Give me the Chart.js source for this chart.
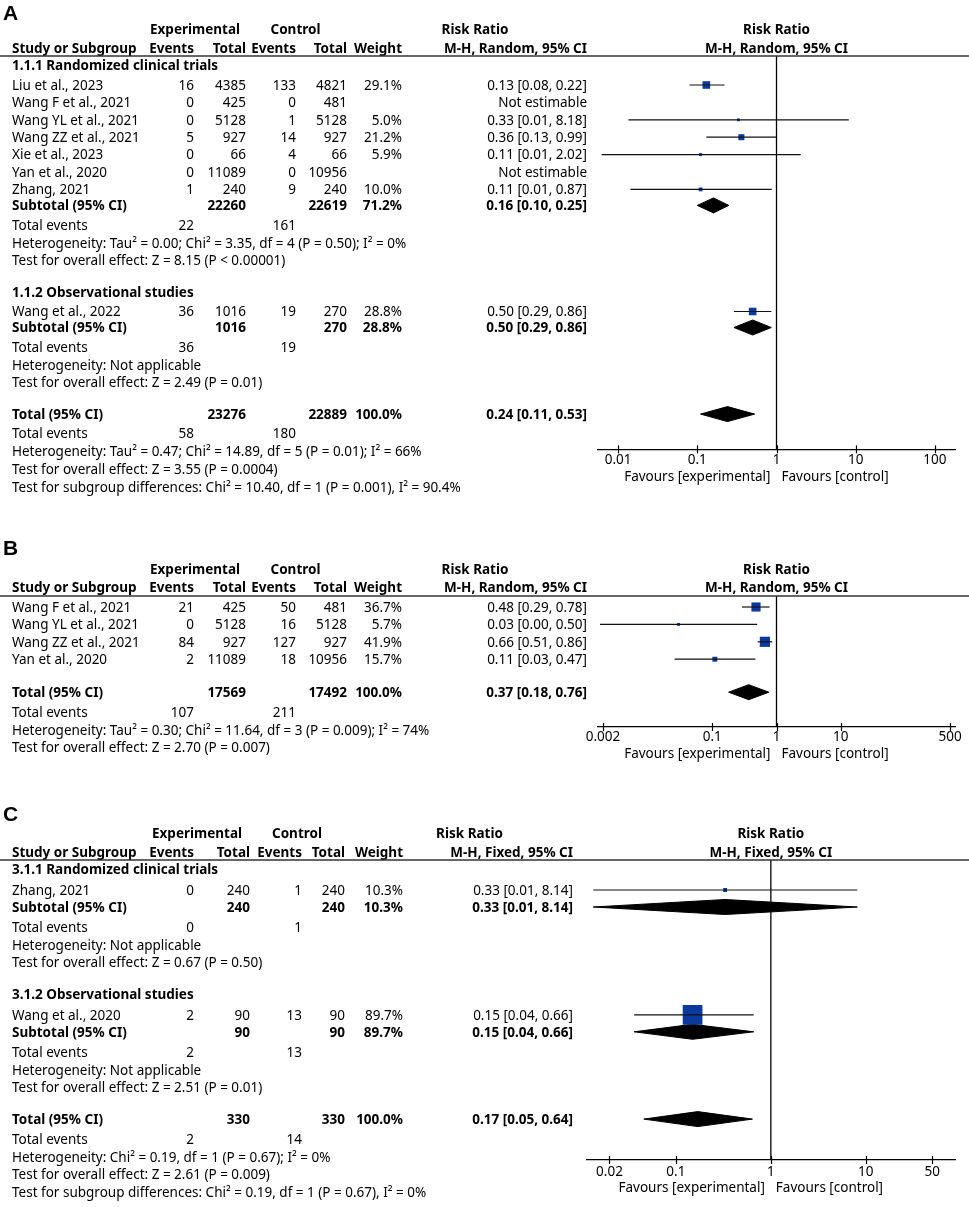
<!DOCTYPE html>
<html>
<head>
<meta charset="utf-8">
<script src="https://cdn.jsdelivr.net/npm/chart.js@4.4.1/dist/chart.umd.min.js"></script>
<style>
  body { margin: 0; background: #fff; width: 969px; height: 1207px; position: relative; overflow: hidden; }
  canvas { position: absolute; left: 0; }
</style>
</head>
<body>
<canvas id="panelA" width="969" height="500" style="top:0px"></canvas>
<canvas id="panelB" width="969" height="262" style="top:500px"></canvas>
<canvas id="panelC" width="969" height="445" style="top:762px"></canvas>
<script>
// ---------- Panel A: studies ----------
const aStudies = ["Liu et al., 2023", "Wang F et al., 2021", "Wang YL et al., 2021", "Wang ZZ et al., 2021",
                  "Xie et al., 2023", "Yan et al., 2020", "Zhang, 2021", "Wang et al., 2022"];
const aSubgroupOf = [0, 0, 0, 0, 0, 0, 0, 1];
const aExpEvents = [16, 0, 0, 5, 0, 0, 1, 36];
const aExpTotal  = [4385, 425, 5128, 927, 66, 11089, 240, 1016];
const aCtlEvents = [133, 0, 1, 14, 4, 0, 9, 19];
const aCtlTotal  = [4821, 481, 5128, 927, 66, 10956, 240, 270];
const aWeight    = [29.1, null, 5.0, 21.2, 5.9, null, 10.0, 28.8];
const aRR        = [0.13, null, 0.33, 0.36, 0.11, null, 0.11, 0.50];
const aLow       = [0.08, null, 0.0135, 0.13, 0.0062, null, 0.0143, 0.29];
const aHigh      = [0.22, null, 8.18, 0.99, 2.02, null, 0.87, 0.86];
// Panel A: subgroups
const aGroupNames     = ["1.1.1 Randomized clinical trials", "1.1.2 Observational studies"];
const aGroupExpTotal  = [22260, 1016];
const aGroupCtlTotal  = [22619, 270];
const aGroupWeight    = [71.2, 28.8];
const aGroupRR        = [0.16, 0.50];
const aGroupLow       = [0.10, 0.29];
const aGroupHigh      = [0.25, 0.86];
const aGroupExpEvents = [22, 36];
const aGroupCtlEvents = [161, 19];
const aGroupHet  = ["Heterogeneity: Tau² = 0.00; Chi² = 3.35, df = 4 (P = 0.50); I² = 0%",
                    "Heterogeneity: Not applicable"];
const aGroupTest = ["Test for overall effect: Z = 8.15 (P < 0.00001)",
                    "Test for overall effect: Z = 2.49 (P = 0.01)"];
// Panel A: overall
const aTotalN      = [23276, 22889];
const aTotalEvents = [58, 180];
const aTotalRR     = [0.24, 0.11, 0.53];
const aTotalNotes  = ["Heterogeneity: Tau² = 0.47; Chi² = 14.89, df = 5 (P = 0.01); I² = 66%",
                      "Test for overall effect: Z = 3.55 (P = 0.0004)",
                      "Test for subgroup differences: Chi² = 10.40, df = 1 (P = 0.001), I² = 90.4%"];
const aTicks = [0.01, 0.1, 1, 10, 100];

// ---------- Panel B ----------
const bStudies   = ["Wang F et al., 2021", "Wang YL et al., 2021", "Wang ZZ et al., 2021", "Yan et al., 2020"];
const bExpEvents = [21, 0, 84, 2];
const bExpTotal  = [425, 5128, 927, 11089];
const bCtlEvents = [50, 16, 127, 18];
const bCtlTotal  = [481, 5128, 927, 10956];
const bWeight    = [36.7, 5.7, 41.9, 15.7];
const bRR        = [0.48, 0.03, 0.66, 0.11];
const bLow       = [0.29, 0.0018, 0.51, 0.026];
const bHigh      = [0.78, 0.50, 0.86, 0.47];
const bTotalN      = [17569, 17492];
const bTotalEvents = [107, 211];
const bTotalRR     = [0.37, 0.18, 0.76];
const bTotalNotes  = ["Heterogeneity: Tau² = 0.30; Chi² = 11.64, df = 3 (P = 0.009); I² = 74%",
                      "Test for overall effect: Z = 2.70 (P = 0.007)"];
const bTicks = [0.002, 0.1, 1, 10, 500];

// ---------- Panel C ----------
const cStudies   = ["Zhang, 2021", "Wang et al., 2020"];
const cSubgroupOf = [0, 1];
const cExpEvents = [0, 2];
const cExpTotal  = [240, 90];
const cCtlEvents = [1, 13];
const cCtlTotal  = [240, 90];
const cWeight    = [10.3, 89.7];
const cRR        = [0.33, 0.15];
const cLow       = [0.0135, 0.0364];
const cHigh      = [8.14, 0.66];
const cGroupNames     = ["3.1.1 Randomized clinical trials", "3.1.2 Observational studies"];
const cGroupExpTotal  = [240, 90];
const cGroupCtlTotal  = [240, 90];
const cGroupWeight    = [10.3, 89.7];
const cGroupRR        = [0.33, 0.15];
const cGroupLow       = [0.0135, 0.0364];
const cGroupHigh      = [8.14, 0.66];
const cGroupExpEvents = [0, 2];
const cGroupCtlEvents = [1, 13];
const cGroupHet  = ["Heterogeneity: Not applicable", "Heterogeneity: Not applicable"];
const cGroupTest = ["Test for overall effect: Z = 0.67 (P = 0.50)",
                    "Test for overall effect: Z = 2.51 (P = 0.01)"];
const cTotalN      = [330, 330];
const cTotalEvents = [2, 14];
const cTotalRR     = [0.17, 0.046, 0.64];
const cTotalNotes  = ["Heterogeneity: Chi² = 0.19, df = 1 (P = 0.67); I² = 0%",
                      "Test for overall effect: Z = 2.61 (P = 0.009)",
                      "Test for subgroup differences: Chi² = 0.19, df = 1 (P = 0.67), I² = 0%"];
const cTicks = [0.02, 0.1, 1, 10, 50];

// ---------- drawing ----------
const FONT = '"Noto Sans", "DejaVu Sans", sans-serif';
const FS = 13.5;
const BLUE = '#0b3a9e';

const f2 = v => v.toFixed(2);
const ciText = (e, lo, hi) => e == null ? 'Not estimable' : f2(e) + ' [' + f2(lo) + ', ' + f2(hi) + ']';
const pct = w => w == null ? '' : w.toFixed(1) + '%';

function buildRows(d, sp) {
  const rows = [];
  let y = sp.rule;
  const studyRow = (i, y) => ({
    y, label: d.studies[i], expEv: d.expEv[i], expN: d.expN[i], ctlEv: d.ctlEv[i], ctlN: d.ctlN[i],
    weight: pct(d.weight[i]), rr: ciText(d.rr[i], d.lo[i], d.hi[i]),
    square: d.rr[i] != null, est: d.rr[i], lo: d.lo[i], hi: d.hi[i], w: d.weight[i]
  });
  if (!d.groups) {
    d.studies.forEach((s, i) => { y += i === 0 ? sp.firstNoTitle : sp.pitch; rows.push(studyRow(i, y)); });
  } else {
    d.groups.names.forEach((name, g) => {
      const G = d.groups;
      y += g === 0 ? sp.title : sp.gap;
      rows.push({ y, label: name, bold: true });
      let first = true;
      d.studies.forEach((s, i) => {
        if (d.group[i] !== g) return;
        y += first ? sp.first : sp.pitch; first = false;
        rows.push(studyRow(i, y));
      });
      y += sp.sub;
      rows.push({ y, label: 'Subtotal (95% CI)', bold: true, expN: G.expN[g], ctlN: G.ctlN[g],
                  weight: pct(G.weight[g]), rr: ciText(G.rr[g], G.lo[g], G.hi[g]),
                  diamond: true, est: G.rr[g], lo: G.lo[g], hi: G.hi[g] });
      y += sp.te; rows.push({ y, label: 'Total events', expEv: G.expEv[g], ctlEv: G.ctlEv[g] });
      y += sp.note; rows.push({ y, label: G.het[g] });
      y += sp.note; rows.push({ y, label: G.test[g] });
    });
  }
  y += sp.gap;
  rows.push({ y, label: 'Total (95% CI)', bold: true, expN: d.totalN[0], ctlN: d.totalN[1], weight: pct(100),
              rr: ciText(d.totalRR[0], d.totalRR[1], d.totalRR[2]),
              diamond: true, est: d.totalRR[0], lo: d.totalRR[1], hi: d.totalRR[2] });
  y += sp.te; rows.push({ y, label: 'Total events', expEv: d.totalEvents[0], ctlEv: d.totalEvents[1] });
  d.totalNotes.forEach(n => { y += sp.note; rows.push({ y, label: n }); });
  return rows;
}

function forestPanel(id, d, lay) {
  const canvas = document.getElementById(id);
  const W = canvas.width, H = canvas.height;
  const rows = buildRows(d, lay);
  const datasets = [];
  const lineDs = (pts, color, width) => ({ data: pts, showLine: true, borderColor: color, borderWidth: width,
                                           pointRadius: 0, fill: false, tension: 0 });
  datasets.push(lineDs([{ x: 1, y: lay.rule }, { x: 1, y: lay.axisY }], '#000', 1.3));
  rows.filter(r => r.square).forEach(r => {
    datasets.push(lineDs([{ x: r.lo, y: r.y }, { x: r.hi, y: r.y }], '#111', 1.2));
  });
  const sq = rows.filter(r => r.square);
  datasets.push({ data: sq.map(r => ({ x: r.est, y: r.y })), showLine: false, pointStyle: 'rect',
                  pointRadius: sq.map(r => (0.2 * r.w + 1.8) / Math.SQRT2), backgroundColor: BLUE, borderWidth: 0 });
  rows.filter(r => r.diamond).forEach(r => {
    datasets.push({
      data: [{ x: r.lo, y: r.y }, { x: r.est, y: r.y - 7.5 }, { x: r.hi, y: r.y }, { x: r.est, y: r.y + 7.5 }, { x: r.lo, y: r.y }],
      showLine: true, fill: 'shape', backgroundColor: '#000', borderColor: '#000', borderWidth: 1, pointRadius: 0, tension: 0
    });
  });

  const col = lay.cols;
  const tablePlugin = {
    id: 'forestTable',
    afterDraw(chart) {
      const { ctx, scales } = chart;
      const Y = v => scales.y.getPixelForValue(v);
      const x1 = scales.x.getPixelForValue(1);
      // canvas "middle" sits a touch high for Noto Sans, nudge text down 1px
      const text = (s, x, y, align, bold) => {
        if (s === undefined || s === null || s === '') return;
        ctx.font = (bold ? 'bold ' : '') + FS + 'px ' + FONT;
        ctx.textAlign = align;
        ctx.fillText(String(s), x, Y(y) + 1);
      };
      ctx.save();
      ctx.fillStyle = '#000';
      ctx.textBaseline = 'middle';
      ctx.font = 'bold 21px "Liberation Sans", Arial, sans-serif';
      ctx.textAlign = 'left';
      ctx.fillText(lay.letter, 3, Y(lay.letterY));

      text('Experimental', col.expHead, lay.head1, 'center', true);
      text('Control', col.ctlHead, lay.head1, 'center', true);
      text('Risk Ratio', col.rrHead, lay.head1, 'center', true);
      text('Risk Ratio', x1, lay.head1, 'center', true);
      text('Study or Subgroup', 12, lay.head2, 'left', true);
      text('Events', col.expEv, lay.head2, 'right', true);
      text('Total', col.expN, lay.head2, 'right', true);
      text('Events', col.ctlEv, lay.head2, 'right', true);
      text('Total', col.ctlN, lay.head2, 'right', true);
      text('Weight', col.weight, lay.head2, 'right', true);
      text(lay.method, col.rr, lay.head2, 'right', true);
      text(lay.method, x1, lay.head2, 'center', true);

      rows.forEach(r => {
        text(r.label, 12, r.y, 'left', r.bold);
        text(r.expEv, col.expEv, r.y, 'right', false);
        text(r.expN, col.expN, r.y, 'right', r.bold);
        text(r.ctlEv, col.ctlEv, r.y, 'right', false);
        text(r.ctlN, col.ctlN, r.y, 'right', r.bold);
        text(r.weight, col.weight, r.y, 'right', r.bold);
        text(r.rr, col.rr, r.y, 'right', r.bold);
      });

      text('Favours [experimental]', x1 - 6, lay.axisY + lay.favOff, 'right', false);
      text('Favours [control]', x1 + 5, lay.axisY + lay.favOff, 'left', false);

      ctx.strokeStyle = '#333';
      ctx.lineWidth = 1.5;
      ctx.beginPath();
      ctx.moveTo(0, Y(lay.rule));
      ctx.lineTo(W, Y(lay.rule));
      ctx.stroke();

      ctx.strokeStyle = '#000';
      ctx.lineWidth = 1.2;
      scales.x.ticks.forEach(t => {
        const px = Math.round(scales.x.getPixelForValue(t.value)) + 0.5;
        ctx.beginPath();
        ctx.moveTo(px, Y(lay.axisY) - 4);
        ctx.lineTo(px, Y(lay.axisY) + 4);
        ctx.stroke();
      });
      ctx.restore();
    }
  };

  return new Chart(canvas, {
    type: 'scatter',
    data: { datasets },
    options: {
      responsive: false,
      animation: false,
      devicePixelRatio: 1,
      events: [],
      layout: { autoPadding: false, padding: { left: lay.plotL, right: W - lay.plotR, top: 0, bottom: 0 } },
      plugins: { legend: { display: false }, tooltip: { enabled: false } },
      scales: {
        x: {
          type: 'logarithmic',
          min: lay.xMin, max: lay.xMax,
          bounds: 'data',
          position: { y: lay.axisY },
          border: { display: true, color: '#000', width: 1.3 },
          grid: { display: true, drawOnChartArea: false, drawTicks: false },
          afterBuildTicks: s => { s.ticks = lay.ticks.map(v => ({ value: v })); },
          ticks: {
            autoSkip: false, maxRotation: 0, padding: lay.tickPad, color: '#000',
            font: { family: FONT, size: FS },
            callback: v => String(v)
          }
        },
        y: { type: 'linear', display: false, reverse: true, bounds: 'data', min: lay.top, max: lay.top + H }
      }
    },
    plugins: [tablePlugin]
  });
}

const colsAB = { expEv: 194, expN: 246, ctlEv: 296, ctlN: 347, weight: 402, rr: 587, expHead: 195, ctlHead: 295.5, rrHead: 475 };
const colsC  = { expEv: 194, expN: 250, ctlEv: 302, ctlN: 345, weight: 403, rr: 573, expHead: 197, ctlHead: 297, rrHead: 469.5 };

forestPanel('panelA', {
  studies: aStudies, group: aSubgroupOf, expEv: aExpEvents, expN: aExpTotal, ctlEv: aCtlEvents, ctlN: aCtlTotal,
  weight: aWeight, rr: aRR, lo: aLow, hi: aHigh,
  groups: { names: aGroupNames, expN: aGroupExpTotal, ctlN: aGroupCtlTotal, weight: aGroupWeight, rr: aGroupRR,
            lo: aGroupLow, hi: aGroupHigh, expEv: aGroupExpEvents, ctlEv: aGroupCtlEvents, het: aGroupHet, test: aGroupTest },
  totalN: aTotalN, totalEvents: aTotalEvents, totalRR: aTotalRR, totalNotes: aTotalNotes
}, {
  top: 0, letter: 'A', letterY: 14, head1: 29, head2: 48, rule: 56,
  title: 9.5, first: 19.5, pitch: 17.4, sub: 16, te: 19.5, note: 17.8, gap: 31.5,
  axisY: 449.3, tickPad: 3, favOff: 27, plotL: 598, plotR: 955, xMin: 0.00557, xMax: 179.5,
  ticks: aTicks, method: 'M-H, Random, 95% CI', cols: colsAB
});

forestPanel('panelB', {
  studies: bStudies, expEv: bExpEvents, expN: bExpTotal, ctlEv: bCtlEvents, ctlN: bCtlTotal,
  weight: bWeight, rr: bRR, lo: bLow, hi: bHigh,
  totalN: bTotalN, totalEvents: bTotalEvents, totalRR: bTotalRR, totalNotes: bTotalNotes
}, {
  top: 500, letter: 'B', letterY: 549, head1: 569, head2: 587, rule: 596,
  firstNoTitle: 11, pitch: 17.4, te: 20, note: 17.5, gap: 33,
  axisY: 727, tickPad: 2, favOff: 26, plotL: 598, plotR: 955, xMin: 0.001675, xMax: 597,
  ticks: bTicks, method: 'M-H, Random, 95% CI', cols: colsAB
});

forestPanel('panelC', {
  studies: cStudies, group: cSubgroupOf, expEv: cExpEvents, expN: cExpTotal, ctlEv: cCtlEvents, ctlN: cCtlTotal,
  weight: cWeight, rr: cRR, lo: cLow, hi: cHigh,
  groups: { names: cGroupNames, expN: cGroupExpTotal, ctlN: cGroupCtlTotal, weight: cGroupWeight, rr: cGroupRR,
            lo: cGroupLow, hi: cGroupHigh, expEv: cGroupExpEvents, ctlEv: cGroupCtlEvents, het: cGroupHet, test: cGroupTest },
  totalN: cTotalN, totalEvents: cTotalEvents, totalRR: cTotalRR, totalNotes: cTotalNotes
}, {
  top: 762, letter: 'C', letterY: 815, head1: 833, head2: 852, rule: 860,
  title: 9.5, first: 20.5, pitch: 17.4, sub: 17, te: 20.3, note: 17.6, gap: 31.8,
  axisY: 1160, tickPad: 4, favOff: 27, plotL: 586.7, plotR: 955, xMin: 0.01152, xMax: 86.8,
  ticks: cTicks, method: 'M-H, Fixed, 95% CI', cols: colsC
});
</script>
</body>
</html>
